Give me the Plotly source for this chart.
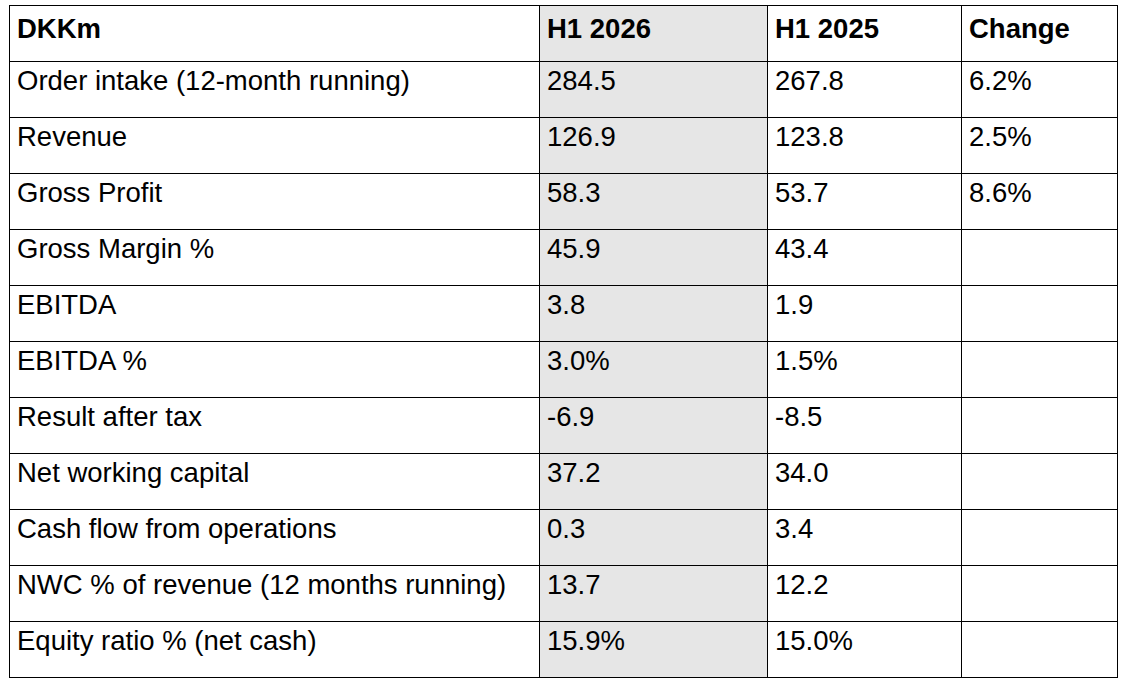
import plotly.graph_objects as go

header = ["DKKm", "H1 2026", "H1 2025", "Change"]
metrics = ["Order intake (12-month running)", "Revenue", "Gross Profit", "Gross Margin %",
           "EBITDA", "EBITDA %", "Result after tax", "Net working capital",
           "Cash flow from operations", "NWC % of revenue (12 months running)",
           "Equity ratio % (net cash)"]
h1_2026 = ["284.5", "126.9", "58.3", "45.9", "3.8", "3.0%", "-6.9", "37.2", "0.3", "13.7", "15.9%"]
h1_2025 = ["267.8", "123.8", "53.7", "43.4", "1.9", "1.5%", "-8.5", "34.0", "3.4", "12.2", "15.0%"]
change = ["6.2%", "2.5%", "8.6%", "", "", "", "", "", "", "", ""]

W, H = 1132, 687
grey = "#e6e6e6"
font = dict(family="Liberation Sans, Arial, sans-serif", size=27.5, color="black")
fig = go.Figure(go.Table(
    columnwidth=[530, 228, 194, 156],
    header=dict(
        values=["<b>%s</b>" % h for h in header],
        fill_color=["white", grey, "white", "white"],
        line=dict(color="black", width=1),
        align="left",
        font=font,
        height=56,
    ),
    cells=dict(
        values=[metrics, h1_2026, h1_2025, change],
        fill_color=["white", grey, "white", "white"],
        line=dict(color="black", width=1),
        align="left",
        font=font,
        height=56,
    ),
))
fig.update_layout(width=W, height=H, margin=dict(l=9, r=15, t=5, b=0),
                  paper_bgcolor="white")
fig.write_html("out.html", config={"displayModeBar": False},
               post_script="document.body.style.margin='0';")
